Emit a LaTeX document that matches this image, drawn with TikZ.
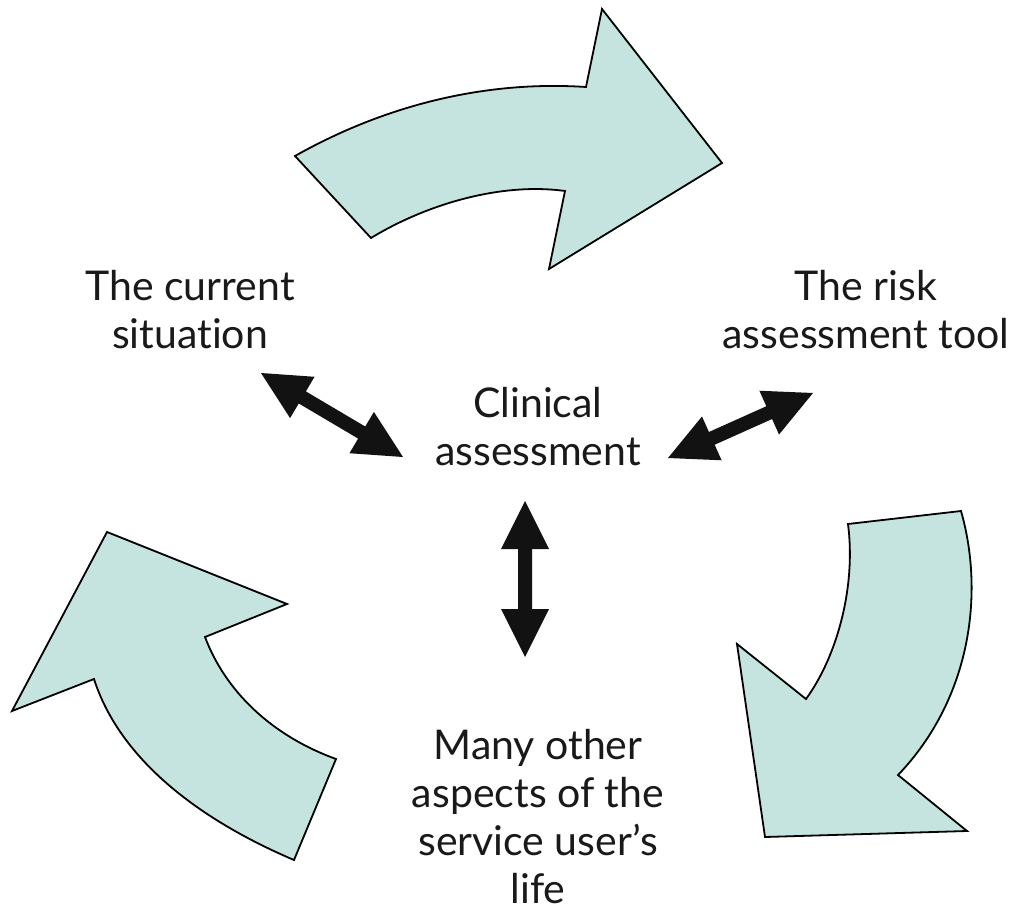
\documentclass[tikz,border=0pt]{standalone}
\usepackage{fontspec}
\setmainfont{Lato}[Ligatures=NoCommon]
\usetikzlibrary{calc}

\definecolor{cyclefill}{HTML}{C5E4DF}
\definecolor{linkblack}{HTML}{121212}

% Double-headed block arrow between two named coordinates
\newcommand\dblblock[2]{%
  \coordinate (h1) at ($(#1)!48pt!(#2)$);
  \coordinate (h2) at ($(#2)!48pt!(#1)$);
  \fill[linkblack] (#1)
    -- ($(h1)!24pt!90:(#2)$) -- ($(h1)!7pt!90:(#2)$)
    -- ($(h2)!7pt!-90:(#1)$) -- ($(h2)!24pt!-90:(#1)$)
    -- (#2)
    -- ($(h2)!24pt!90:(#1)$) -- ($(h2)!7pt!90:(#1)$)
    -- ($(h1)!7pt!-90:(#2)$) -- ($(h1)!24pt!-90:(#2)$)
    -- cycle;}

\tikzset{
  cyclearrow/.style={fill=cyclefill, draw=black, line width=1.8pt, line join=miter},
  % anchor=base sits on the baseline of the last line
  lbl/.style={font=\fontsize{41}{48}\selectfont, align=center, inner sep=0pt, anchor=base, text=black!90}
}

\begin{document}
\begin{tikzpicture}[x=1pt, y=-1pt]
  \fill[white] (0,0) rectangle (1010,910);
  \useasboundingbox (0,0) rectangle (1010,910);

  % top curved arrow
  \draw[cyclearrow] (295,156) .. controls (380,108) and (480,80) .. (586,87)
    -- (602,9) -- (722,163) -- (549,269) -- (565,191)
    .. controls (500,182) and (425,205) .. (371,238) -- cycle;

  % right curved arrow
  \draw[cyclearrow] (961,511) -- (848,524)
    .. controls (856,585) and (838,655) .. (806,699)
    -- (737,644) -- (765,837) -- (967,831) -- (898,775)
    .. controls (970,700) and (985,595) .. (961,511) -- cycle;

  % left curved arrow
  \draw[cyclearrow] (12,711) -- (107,532) -- (287,604) -- (205,637)
    .. controls (225,690) and (270,735) .. (336,759) -- (294,860)
    .. controls (200,820) and (120,760) .. (94,679) -- cycle;

  % labels
  \node[lbl] (cur)  at (190,348) {The current\\situation};
  \node[lbl] (risk) at (866,348) {The risk\\assessment tool};
  \node[lbl] (clin) at (538,465) {Clinical\\assessment};
  \node[lbl] (many) at (538,903) {Many other\\aspects of the\\service user’s\\life};

  % end points of the links
  \coordinate (ulA) at (261,373);
  \coordinate (ulB) at (403,457);
  \coordinate (rtA) at (668,458);
  \coordinate (rtB) at (813,393);
  \coordinate (dnA) at (525,501);
  \coordinate (dnB) at (525,657);

  \dblblock{ulA}{ulB}
  \dblblock{rtA}{rtB}
  \dblblock{dnA}{dnB}
\end{tikzpicture}
\end{document}
